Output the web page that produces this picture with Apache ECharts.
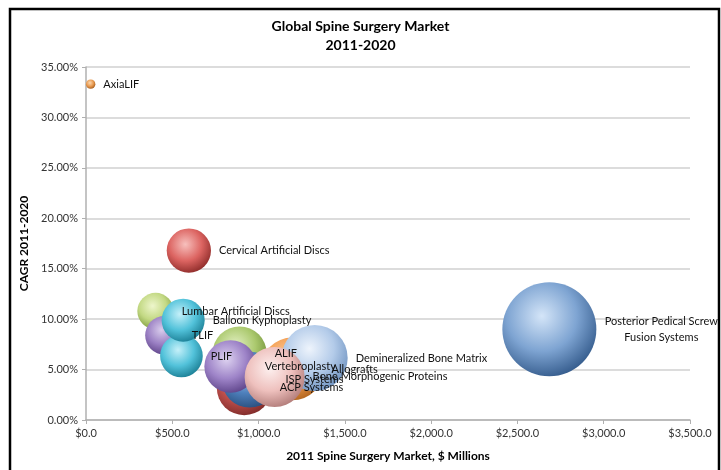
<!DOCTYPE html>
<html>
<head>
<meta charset="utf-8">
<script src="https://cdn.jsdelivr.net/npm/echarts@6/dist/echarts.min.js"></script>
<style>html,body{margin:0;padding:0;background:#fff}#c{width:721px;height:470px}</style>
</head>
<body>
<div id="c"></div>
<script>
// Data (draw order back to front)
var segments = ['Posterior Pedical Screw\nFusion Systems','Cervical Artificial Discs','AxiaLIF','Lumbar Artificial Discs','TLIF','PLIF','Balloon Kyphoplasty','ALIF','ACP Systems','ISP Systems','Vertebroplasty','Allografts','Demineralized Bone Matrix','Bone Morphogenic Proteins'];
var market2011 = [2685, 596, 27, 403, 455, 553, 563, 890, 917, 948, 838, 1195, 1325, 1093];
var cagr = [9.0, 16.8, 33.3, 10.8, 8.4, 6.35, 9.9, 6.6, 3.2, 4.0, 5.3, 5.06, 6.15, 4.27];
var xTicks = [0, 500, 1000, 1500, 2000, 2500, 3000, 3500];
var yTicks = [0, 5, 10, 15, 20, 25, 30, 35];

// Styles: [highlight, base, dark]
var palette = {
  'Posterior Pedical Screw\nFusion Systems': ['#d4e5f8','#7ea4d2','#32598a'],
  'Cervical Artificial Discs': ['#f7c0bd','#dc6461','#8c2a28'],
  'AxiaLIF': ['#fbd7b0','#e89a50','#a35a1a'],
  'Lumbar Artificial Discs': ['#eef6cc','#c3d984','#7b983a'],
  'TLIF': ['#d9cdec','#9a7fc3','#5a3f84'],
  'PLIF': ['#c4f0f9','#52c2da','#1a7d93'],
  'Balloon Kyphoplasty': ['#c4f0f9','#52c2da','#1a7d93'],
  'ALIF': ['#e3f0c4','#abc96e','#6c8c34'],
  'ACP Systems': ['#eaa9a7','#c0504d','#7d2a28'],
  'ISP Systems': ['#b8d0ef','#4f81bd','#284d7c'],
  'Vertebroplasty': ['#ddd2f0','#9e84c8','#5c4288'],
  'Allografts': ['#fcd4ae','#f5a155','#b1641d'],
  'Demineralized Bone Matrix': ['#eef4fc','#b3cbe9','#6e92c0'],
  'Bone Morphogenic Proteins': ['#fdf0ef','#eec0bd','#b07a77']
};

var FONT = 'Lato, "Open Sans", sans-serif';

var seriesData = segments.map(function (name, i) {
  var c = palette[name];
  var item = {
    name: name,
    value: [market2011[i], cagr[i]],
    itemStyle: {
      color: {
        type: 'radial', x: 0.42, y: 0.36, r: 0.68,
        colorStops: [
          {offset: 0, color: c[0]},
          {offset: 0.55, color: c[1]},
          {offset: 1, color: c[2]}
        ]
      }
    }
  };
  if (name.indexOf('\n') >= 0) {
    var lines = name.split('\n');
    item.label = {
      formatter: lines.map(function (l) { return '{c|' + l + '}'; }).join('\n'),
      rich: {c: {width: 114, align: 'center', fontFamily: FONT, fontSize: 11, color: '#111', lineHeight: 16}}
    };
  }
  return item;
});

var chart = echarts.init(document.getElementById('c'), null, {renderer: 'canvas'});
chart.setOption({
  backgroundColor: '#fff',
  animation: false,
  textStyle: {fontFamily: FONT},
  title: {
    text: 'Global Spine Surgery Market\n2011-2020',
    left: 'center',
    top: 12,
    textStyle: {fontFamily: FONT, fontSize: 14, fontWeight: 'bold', color: '#000', lineHeight: 19}
  },
  graphic: [{
    type: 'rect',
    shape: {x: 10, y: 9, width: 709, height: 475},
    style: {fill: 'none', stroke: '#000', lineWidth: 2.5},
    silent: true
  }],
  grid: {left: 86, right: 31, top: 67, bottom: 50},
  xAxis: {
    type: 'value',
    min: xTicks[0], max: xTicks[xTicks.length - 1], interval: 500,
    name: '2011 Spine Surgery Market, $ Millions',
    nameLocation: 'middle', nameGap: 30,
    nameTextStyle: {fontFamily: FONT, fontSize: 12, fontWeight: 'bold', color: '#000'},
    axisLine: {show: true, lineStyle: {color: '#b0b0b0', width: 1.5}},
    axisTick: {show: true, length: 4, lineStyle: {color: '#b0b0b0'}},
    splitLine: {show: false},
    axisLabel: {
      margin: 8, fontSize: 11, color: '#333',
      formatter: function (v) { return '$' + v.toLocaleString('en-US', {minimumFractionDigits: 1, maximumFractionDigits: 1}); }
    }
  },
  yAxis: {
    type: 'value',
    min: yTicks[0], max: yTicks[yTicks.length - 1], interval: 5,
    name: 'CAGR 2011-2020',
    nameLocation: 'middle', nameGap: 44,
    nameTextStyle: {fontFamily: FONT, fontSize: 12, fontWeight: 'bold', color: '#000'},
    axisLine: {show: true, lineStyle: {color: '#b0b0b0', width: 1.5}},
    axisTick: {show: true, length: 4, lineStyle: {color: '#b0b0b0'}},
    splitLine: {show: true, lineStyle: {color: '#d0d0d0', width: 1.5}},
    axisLabel: {
      margin: 8, fontSize: 11, color: '#333',
      formatter: function (v) { return v.toFixed(2) + '%'; }
    }
  },
  series: [{
    type: 'scatter',
    data: seriesData,
    symbol: 'circle',
    symbolSize: function (val) { return 1.814 * Math.sqrt(val[0]); },
    itemStyle: {opacity: 1},
    label: {
      show: true,
      position: 'right',
      distance: 8,
      fontFamily: FONT,
      fontSize: 11,
      color: '#111',
      formatter: function (p) { return p.name; }
    },
    labelLayout: {hideOverlap: false},
    emphasis: {disabled: true}
  }]
});
</script>
</body>
</html>
